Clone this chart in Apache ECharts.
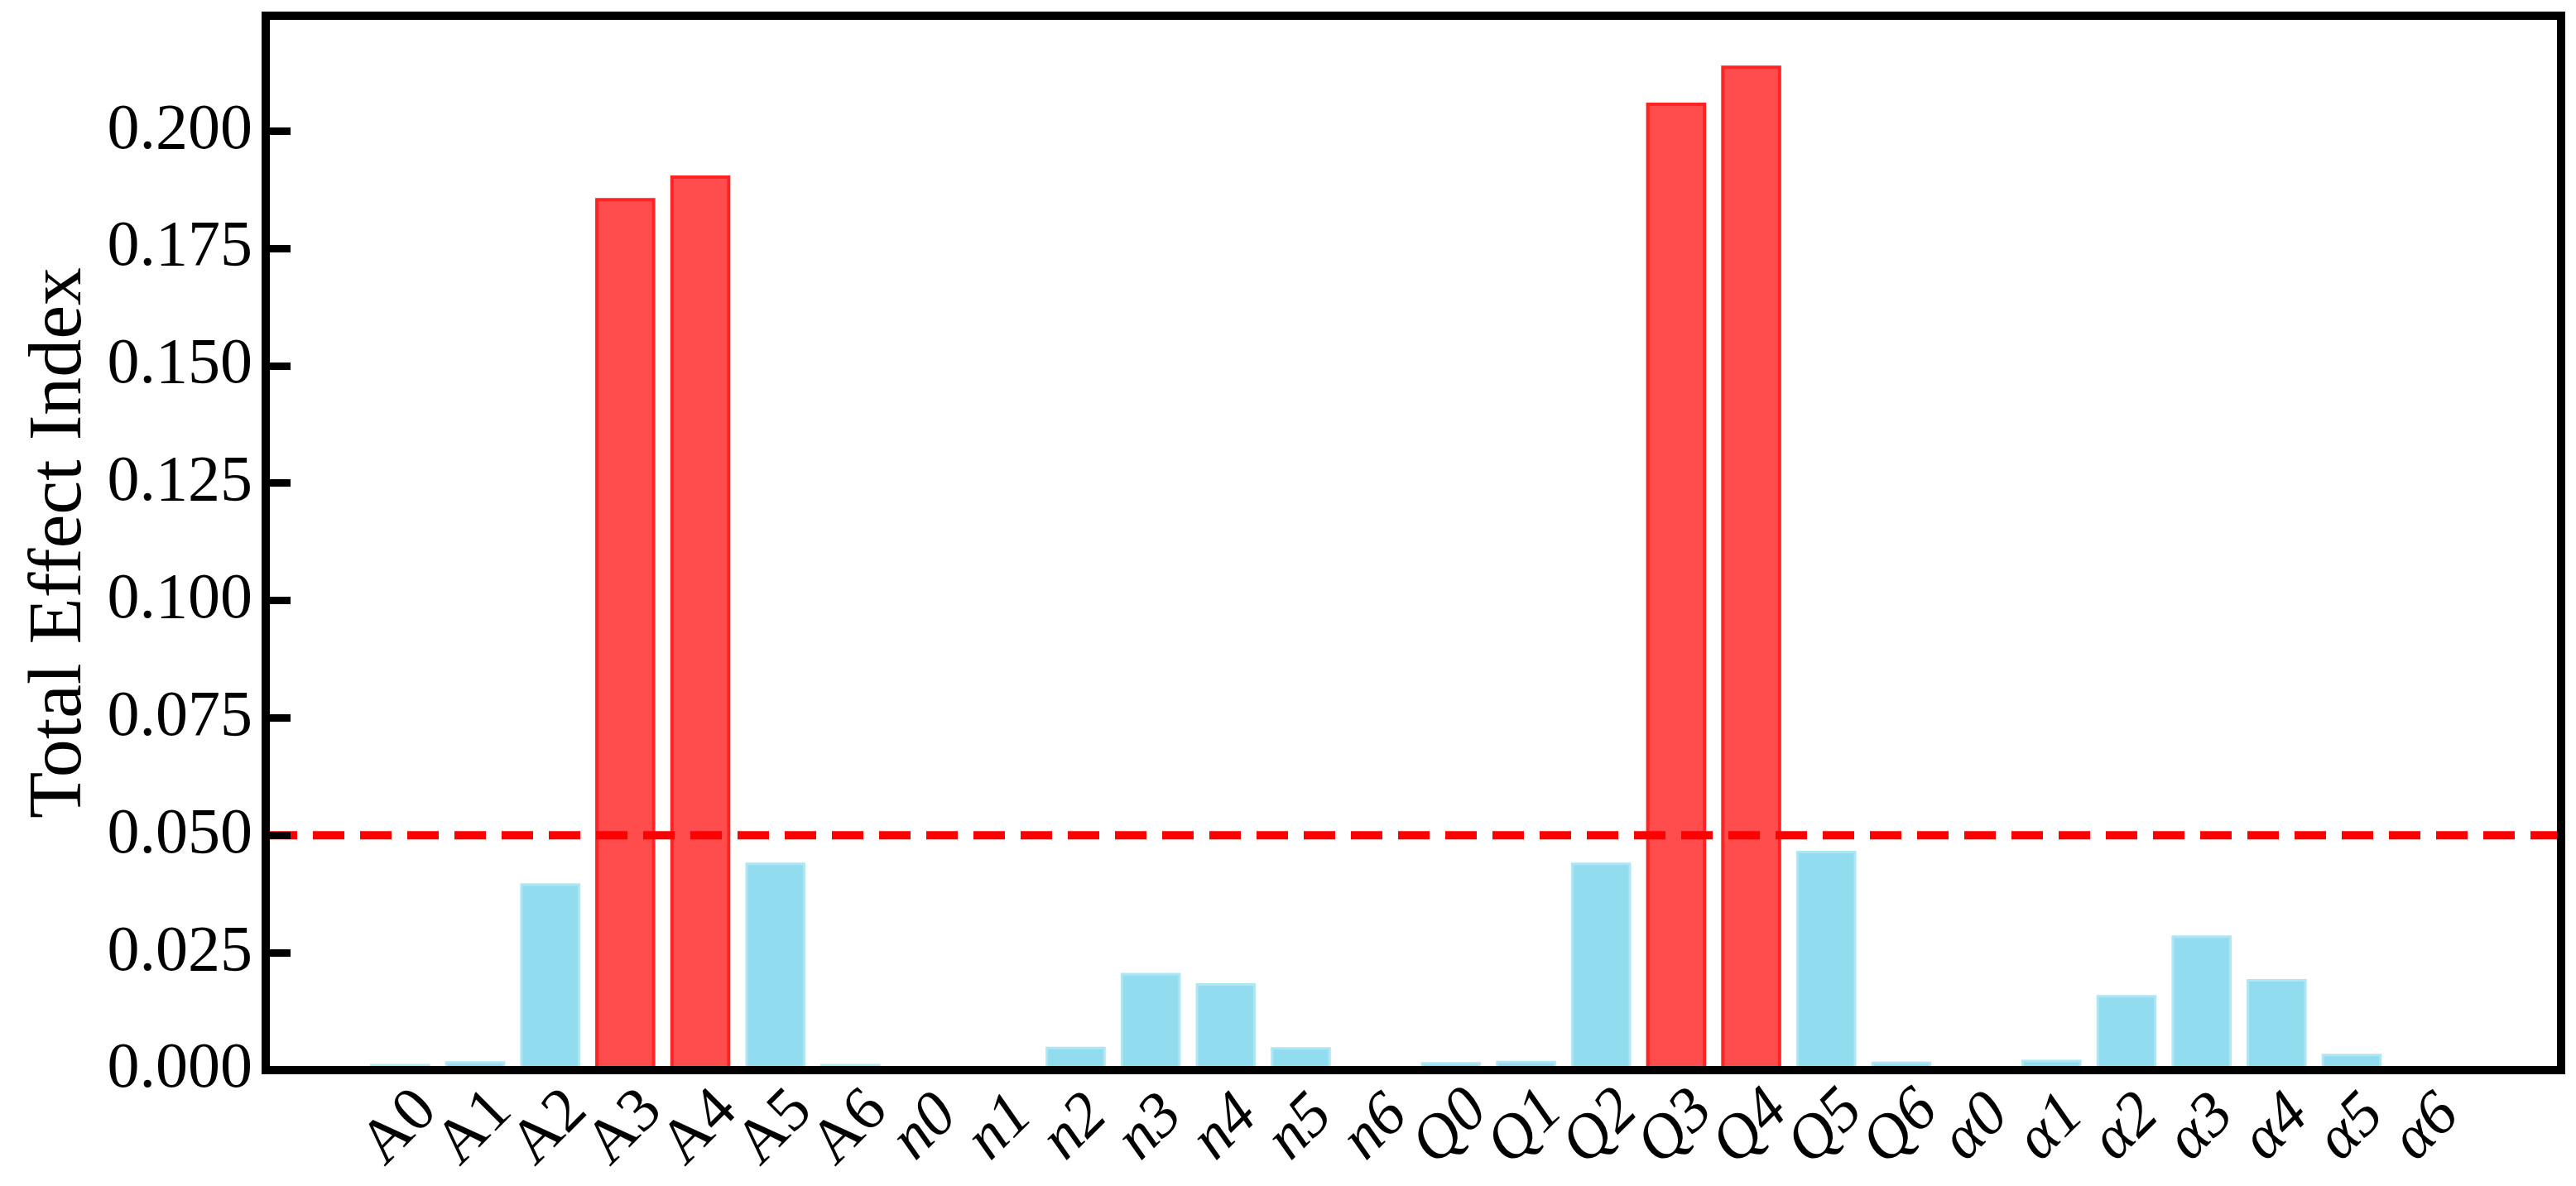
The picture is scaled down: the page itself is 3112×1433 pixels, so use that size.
<!DOCTYPE html>
<html>
<head>
<meta charset="utf-8">
<script src="https://cdn.jsdelivr.net/npm/echarts@6/dist/echarts.min.js"></script>
<style>
html,body{margin:0;padding:0;background:#ffffff;}
#chart{width:3112px;height:1433px;}
</style>
</head>
<body>
<div id="chart"></div>
<script>
// ---- data ----
const categories = ['A0','A1','A2','A3','A4','A5','A6',
                    'n0','n1','n2','n3','n4','n5','n6',
                    'Q0','Q1','Q2','Q3','Q4','Q5','Q6',
                    'α0','α1','α2','α3','α4','α5','α6'];
const valuesA     = [0.0013, 0.0019, 0.0398, 0.1857, 0.1905, 0.0442, 0.0013];
const valuesN     = [0.0000, 0.0000, 0.0050, 0.0207, 0.0185, 0.0049, 0.0000];
const valuesQ     = [0.0017, 0.0020, 0.0442, 0.2060, 0.2139, 0.0467, 0.0018];
const valuesAlpha = [0.0000, 0.0022, 0.0160, 0.0287, 0.0194, 0.0035, 0.0000];
const yTickLabels = ['0.000','0.025','0.050','0.075','0.100','0.125','0.150','0.175','0.200'];
const THRESHOLD = 0.05;
const Y_MIN = 0;
const Y_MAX = 0.2245;
const Y_INTERVAL = 0.025;
const Y_TITLE = 'Total Effect Index';

// ---- layout ----
const W = 3112, H = 1433;
const FL = 321, FR = 3094, FT = 19, FB = 1293;       // frame (spines)
const X_PAD = 1.79;                                   // axis margin in category units
const span = (categories.length - 1) + 2 * X_PAD;
const step = (FR - FL) / span;
const dataLeft = FL + (X_PAD - 0.5) * step;
const dataRight = dataLeft + categories.length * step;

const SERIF = '"Liberation Serif", "Times New Roman", Times, serif';
const values = valuesA.concat(valuesN, valuesQ, valuesAlpha);

const RED_FILL = '#ff4c4c', RED_EDGE = '#ff2424';
const BLUE_FILL = '#92dcf0', BLUE_EDGE = '#aee6f4';

const chart = echarts.init(document.getElementById('chart'), null, {renderer: 'canvas'});

const spine = {show: true, onZero: false, lineStyle: {color: '#000', width: 10, cap: 'square'}};

const option = {
  backgroundColor: '#ffffff',
  animation: false,
  grid: [
    {left: FL, right: W - FR, top: FT, bottom: H - FB, containLabel: false, outerBoundsMode: 'none'},
    {left: dataLeft, right: W - dataRight, top: FT, bottom: H - FB, containLabel: false, outerBoundsMode: 'none'}
  ],
  xAxis: [
    {gridIndex: 0, type: 'value', min: 0, max: 1, position: 'bottom', z: 10,
     axisLine: spine, axisTick: {show: false}, axisLabel: {show: false}, splitLine: {show: false}},
    {gridIndex: 0, type: 'value', min: 0, max: 1, position: 'top', z: 10,
     axisLine: spine, axisTick: {show: false}, axisLabel: {show: false}, splitLine: {show: false}},
    {gridIndex: 1, type: 'category', data: categories, position: 'bottom',
     axisLine: {show: false}, axisTick: {show: false}, splitLine: {show: false},
     axisLabel: {
       interval: 0, rotate: 45, margin: 70, align: 'center', verticalAlign: 'middle',
       color: '#000', fontFamily: SERIF, fontSize: 76,
       formatter: v => (v.charAt(0) === 'A' ? '{n|' + v + '}' : '{i|' + v + '}'),
       rich: {
         n: {fontFamily: SERIF, fontSize: 76, color: '#000'},
         i: {fontFamily: SERIF, fontSize: 76, fontStyle: 'italic', color: '#000'}
       }
     }}
  ],
  yAxis: [
    {gridIndex: 0, type: 'value', min: Y_MIN, max: Y_MAX, interval: Y_INTERVAL, position: 'left', z: 10,
     axisLine: spine,
     axisTick: {show: true, inside: true, length: 30, lineStyle: {color: '#000', width: 9}},
     splitLine: {show: false},
     axisLabel: {
       show: true, margin: 16, color: '#000', fontFamily: SERIF, fontSize: 78,
       showMaxLabel: false,
       formatter: v => {
         const idx = Math.round(v / Y_INTERVAL);
         return (Math.abs(v - idx * Y_INTERVAL) < 1e-9 && yTickLabels[idx]) ? yTickLabels[idx] : '';
       }
     },
     name: Y_TITLE, nameLocation: 'middle', nameGap: 200,
     nameTextStyle: {fontFamily: SERIF, fontSize: 92, color: '#000'}},
    {gridIndex: 0, type: 'value', min: Y_MIN, max: Y_MAX, position: 'right', z: 10,
     axisLine: spine, axisTick: {show: false}, axisLabel: {show: false}, splitLine: {show: false}},
    {gridIndex: 1, type: 'value', min: Y_MIN, max: Y_MAX, show: false,
     axisLine: {show: false}, axisTick: {show: false}, axisLabel: {show: false}, splitLine: {show: false}}
  ],
  series: [
    {
      type: 'bar', xAxisIndex: 2, yAxisIndex: 2, barWidth: '80%', z: 2,
      data: values.map(v => ({
        value: v,
        itemStyle: v > THRESHOLD
          ? {color: RED_FILL, borderColor: RED_EDGE, borderWidth: 4}
          : {color: BLUE_FILL, borderColor: BLUE_EDGE, borderWidth: 3}
      }))
    },
    {
      type: 'line', xAxisIndex: 0, yAxisIndex: 0, z: 5, silent: true,
      showSymbol: false, symbol: 'none',
      data: [[0, THRESHOLD], [1, THRESHOLD]],
      lineStyle: {color: '#ff0000', width: 10, type: [38, 19]}
    }
  ]
};
chart.setOption(option);
</script>
</body>
</html>
